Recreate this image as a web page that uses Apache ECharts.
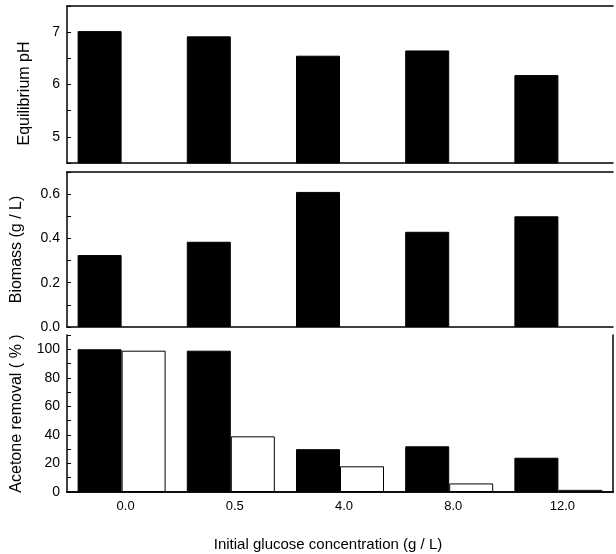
<!DOCTYPE html>
<html>
<head>
<meta charset="utf-8">
<script src="https://cdn.jsdelivr.net/npm/echarts@6/dist/echarts.min.js"></script>
<style>html,body{margin:0;padding:0;background:#fff}#c{width:616px;height:554px}</style>
</head>
<body>
<div id="c"></div>
<script>
var categories = ['0.0', '0.5', '4.0', '8.0', '12.0'];
var phValues = [7.02, 6.92, 6.55, 6.65, 6.18];
var biomassValues = [0.325, 0.385, 0.61, 0.43, 0.50];
var acetoneBlack = [100, 99, 30, 32, 24];
var acetoneWhite = [99, 39, 18, 6, 1.5];
var emptyValues = ['-', '-', '-', '-', '-'];

var FONT = 'Liberation Sans, Arial, sans-serif';

var chart = echarts.init(document.getElementById('c'));

function xBottom(gi, showLabels, name) {
  var ax = {
    type: 'category', gridIndex: gi, data: categories, position: 'bottom',
    boundaryGap: true,
    axisLine: {show: true, lineStyle: {color: '#000', width: 1.5}},
    axisTick: {show: false},
    axisLabel: {show: showLabels, color: '#000', fontFamily: FONT, fontSize: 13, margin: 8, padding: [0, 0, 0, 8]},
    splitLine: {show: false}
  };
  if (name) {
    ax.name = name;
    ax.nameLocation = 'middle';
    ax.nameGap = 45;
    ax.nameTextStyle = {color: '#000', fontFamily: FONT, fontSize: 15, padding: [0, 24, 0, 0]};
  }
  return ax;
}
function xTop(gi) {
  return {
    type: 'category', gridIndex: gi, data: categories, position: 'top',
    axisLine: {show: true, lineStyle: {color: '#000', width: 1.5}},
    axisTick: {show: false}, axisLabel: {show: false}, splitLine: {show: false}
  };
}
function yLeft(gi, min, max, interval, fmt, name, nameGap, namePad) {
  return {
    type: 'value', gridIndex: gi, position: 'left', min: min, max: max, interval: interval,
    axisLine: {show: true, lineStyle: {color: '#000', width: 1.5}},
    axisTick: {show: true, inside: true, length: 4, lineStyle: {color: '#000', width: 1}},
    axisLabel: {color: '#000', fontFamily: FONT, fontSize: 14, margin: 7, formatter: fmt, showMaxLabel: true},
    splitLine: {show: false},
    name: name, nameLocation: 'middle', nameGap: nameGap, nameRotate: 90,
    nameTextStyle: {color: '#000', fontFamily: FONT, fontSize: 16, padding: namePad || 0}
  };
}
function yRight(gi, min, max) {
  return {
    type: 'value', gridIndex: gi, position: 'right', min: min, max: max,
    axisLine: {show: true, lineStyle: {color: '#000', width: 1.5}},
    axisTick: {show: false}, axisLabel: {show: false}, splitLine: {show: false}
  };
}

var blackStyle = {color: '#000', borderColor: '#000', borderWidth: 1};
var whiteStyle = {color: '#fff', borderColor: '#000', borderWidth: 1};

var option = {
  backgroundColor: '#fff',
  animation: false,
  grid: [
    {left: 67, right: 3, top: 6, bottom: 391},
    {left: 67, right: 3, top: 172, bottom: 227},
    {left: 67, right: 3, top: 335, bottom: 62}
  ],
  xAxis: [
    xBottom(0, false), xTop(0),
    xBottom(1, false), xTop(1),
    xBottom(2, true, 'Initial glucose concentration (g / L)'), xTop(2)
  ],
  yAxis: [
    yLeft(0, 4.5, 7.5, 0.5, function (v) { return Math.abs(v - Math.round(v)) < 1e-6 ? String(Math.round(v)) : ''; }, 'Equilibrium pH', 34, [0, 18, 0, 0]),
    yLeft(1, 0, 0.7, 0.1, function (v) { var k = Math.round(v * 10); return (k % 2 === 0 && k <= 6) ? v.toFixed(1) : ''; }, 'Biomass (g / L)', 42),
    yLeft(2, 0, 110, 10, function (v) { return (v % 20 === 0 && v <= 100) ? String(v) : ''; }, 'Acetone removal ( % )', 42),
    yRight(2, 0, 110)
  ],
  series: [
    {type: 'bar', xAxisIndex: 0, yAxisIndex: 0, data: phValues, barWidth: 44, barGap: '0%', itemStyle: blackStyle},
    {type: 'bar', xAxisIndex: 0, yAxisIndex: 0, data: emptyValues, barWidth: 44, barGap: '0%', itemStyle: whiteStyle},
    {type: 'bar', xAxisIndex: 2, yAxisIndex: 1, data: biomassValues, barWidth: 44, barGap: '0%', itemStyle: blackStyle},
    {type: 'bar', xAxisIndex: 2, yAxisIndex: 1, data: emptyValues, barWidth: 44, barGap: '0%', itemStyle: whiteStyle},
    {type: 'bar', xAxisIndex: 4, yAxisIndex: 2, data: acetoneBlack, barWidth: 44, barGap: '0%', itemStyle: blackStyle},
    {type: 'bar', xAxisIndex: 4, yAxisIndex: 2, data: acetoneWhite, barWidth: 44, barGap: '0%', itemStyle: whiteStyle}
  ]
};
chart.setOption(option);
</script>
</body>
</html>
